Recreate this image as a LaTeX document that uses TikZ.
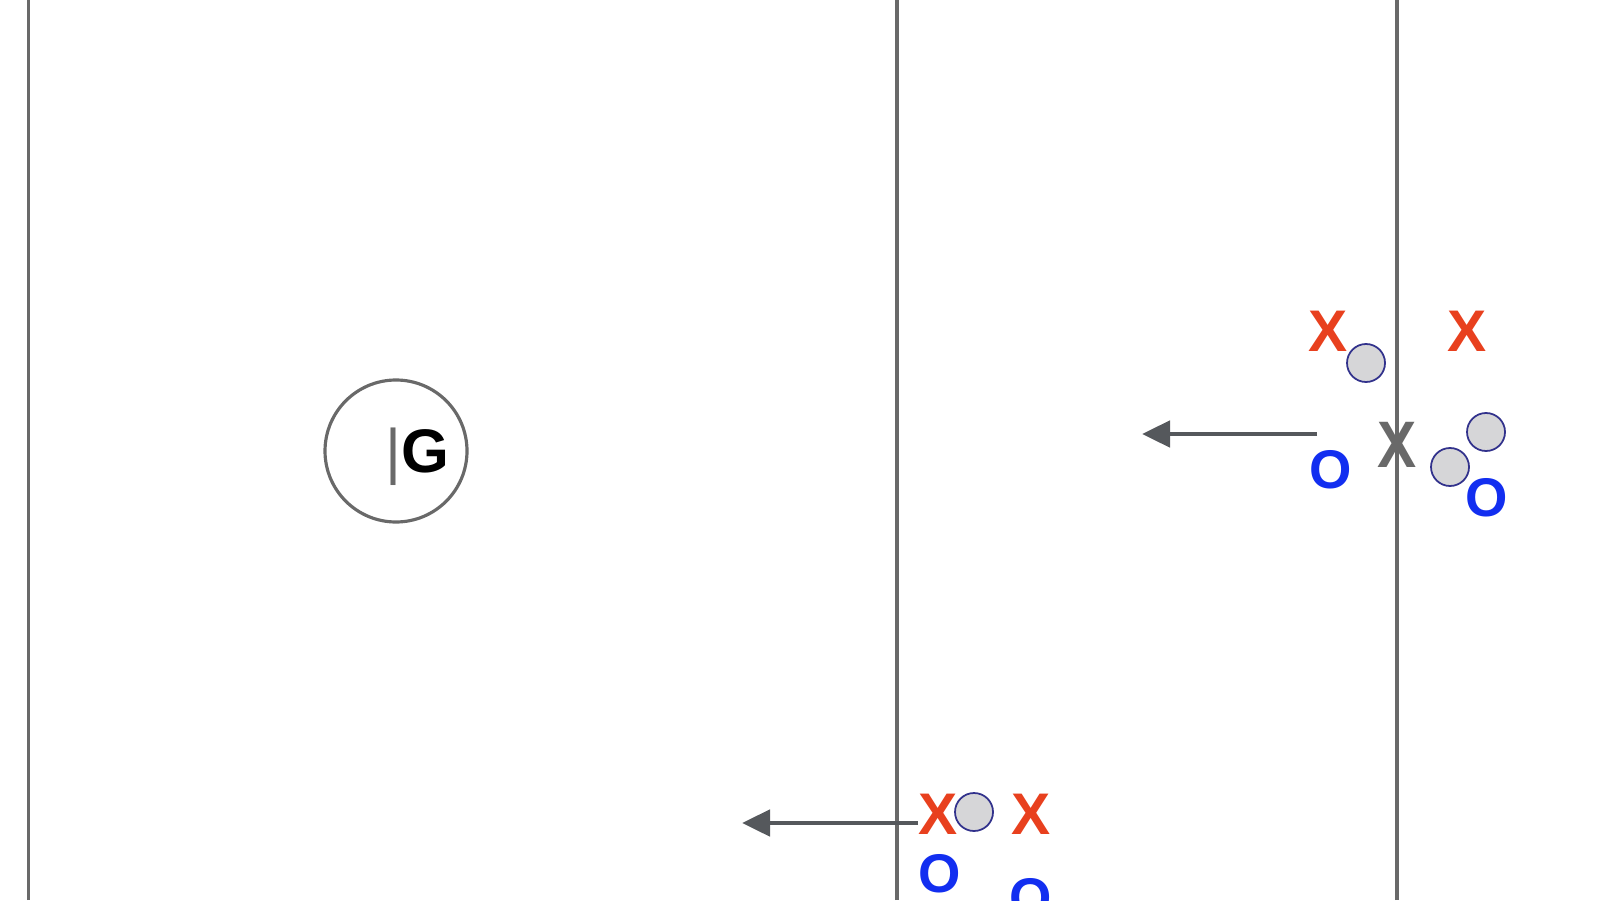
\documentclass[tikz,border=0pt]{standalone}
\usepackage{fontspec}
\setmainfont{Liberation Sans}
\usetikzlibrary{arrows.meta}
\usepackage{xcolor}
\definecolor{xred}{RGB}{232,64,30}
\definecolor{oblue}{RGB}{18,46,240}
\definecolor{ballgray}{RGB}{214,214,216}
\definecolor{ballblue}{RGB}{50,50,140}
\definecolor{linegray}{RGB}{105,105,105}
\definecolor{arrowgray}{RGB}{85,88,92}

\begin{document}
\begin{tikzpicture}[
    attack/.style={inner sep=0pt, text=xred, font=\fontsize{16.7}{20}\selectfont\bfseries},
    defend/.style={inner sep=0pt, text=oblue, font=\fontsize{15.5}{19}\selectfont\bfseries},
    center/.style={inner sep=0pt, text=linegray, yscale=1.12, font=\fontsize{16.7}{20}\selectfont\bfseries},
    ball/.style={circle, inner sep=0pt, minimum size=0.38cm, fill=ballgray,
                 draw=ballblue, line width=0.5pt},
    goal/.style={circle, minimum size=1.42cm, draw=linegray, line width=0.9pt},
    pitch/.style={draw=linegray, line width=0.9pt},
    arrow/.style={-{Triangle[length=0.28cm, width=0.26cm]}, draw=arrowgray, line width=1.4pt}
]
\clip (0,0) rectangle (16,9);

% Field lines
\draw[pitch] (0.286,0) -- (0.286,9);
\draw[pitch] (8.97,0) -- (8.97,9);
\draw[pitch] (13.97,0) -- (13.97,9);

% Goal
\node[goal] (crease) at (3.96,4.49) {};
\node[anchor=base, inner sep=0pt, font=\fontsize{17.5}{21}\selectfont] (goalie) at (4.175,4.28)
    {\textcolor{linegray}{|}\textbf{G}};

% Upper group
\node[attack] (xa) at (13.28,5.69) {X};
\node[attack] (xb) at (14.67,5.69) {X};
\node[ball] (ba) at (13.66,5.37) {};
\node[center, transform shape] (fo) at (13.97,4.55) {X};
\node[defend] (oa) at (13.31,4.30) {O};
\node[ball] (bb) at (14.86,4.68) {};
\node[ball] (bc) at (14.50,4.33) {};
\node[defend] (ob) at (14.87,4.02) {O};

% Lower group
\node[attack] (xc) at (9.38,0.86) {X};
\node[ball] (bd) at (9.74,0.88) {};
\node[attack] (xd) at (10.31,0.86) {X};
\node[defend] (oc) at (9.40,0.26) {O};
\node[defend] (od) at (10.31,0.02) {O};

% Arrows
\coordinate (runa) at (13.17,4.66);
\coordinate (runa end) at (11.42,4.66);
\coordinate (runb) at (9.18,0.77);
\coordinate (runb end) at (7.42,0.77);
\draw[arrow] (runa) -- (runa end);
\draw[arrow] (runb) -- (runb end);

\end{tikzpicture}
\end{document}
